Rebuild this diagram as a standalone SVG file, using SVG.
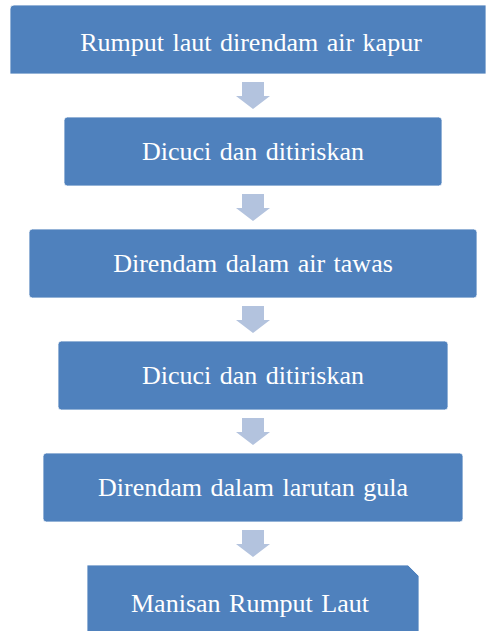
<svg xmlns="http://www.w3.org/2000/svg" width="487" height="631" viewBox="0 0 487 631">
<style>
.box{fill:#4F81BD;stroke:#ffffff;stroke-width:0.8}
.lbl{font-family:"Liberation Serif","Times New Roman",serif;font-size:26px;fill:#ffffff;text-anchor:middle;word-spacing:2px}
.arr{fill:#B3C3DE}
</style>
<defs>
<path id="arrowShape" d="M-11,0 H11 V14 H17 L0,27 L-17,14 H-11 Z"/>
</defs>
<rect x="0" y="0" width="487" height="631" fill="#ffffff"/>
<g id="connectors">
<use href="#arrowShape" class="arr" x="253" y="82"/>
<use href="#arrowShape" class="arr" x="253" y="194"/>
<use href="#arrowShape" class="arr" x="253" y="306"/>
<use href="#arrowShape" class="arr" x="253" y="418"/>
<use href="#arrowShape" class="arr" x="253" y="530"/>
</g>
<g id="node1">
<path class="box" d="M10,9 Q10,5 14,5 H486 V74 H10 Z"/>
<text class="lbl" x="251" y="51">Rumput laut direndam air kapur</text>
</g>
<g id="node2">
<rect class="box" x="64" y="117" width="378" height="69" rx="3.5"/>
<text class="lbl" x="253" y="160">Dicuci dan ditiriskan</text>
</g>
<g id="node3">
<rect class="box" x="29" y="229" width="448" height="69" rx="3.5"/>
<text class="lbl" x="253" y="272">Direndam dalam air tawas</text>
</g>
<g id="node4">
<rect class="box" x="58" y="341" width="390" height="69" rx="3.5"/>
<text class="lbl" x="253" y="384">Dicuci dan ditiriskan</text>
</g>
<g id="node5">
<rect class="box" x="43" y="453" width="420" height="69" rx="3.5"/>
<text class="lbl" x="253" y="496">Direndam dalam larutan gula</text>
</g>
<g id="node6">
<path class="box" d="M87,565 H408 L419,576 V640 H87 Z"/>
<text class="lbl" x="250" y="612">Manisan Rumput Laut</text>
</g>
</svg>
